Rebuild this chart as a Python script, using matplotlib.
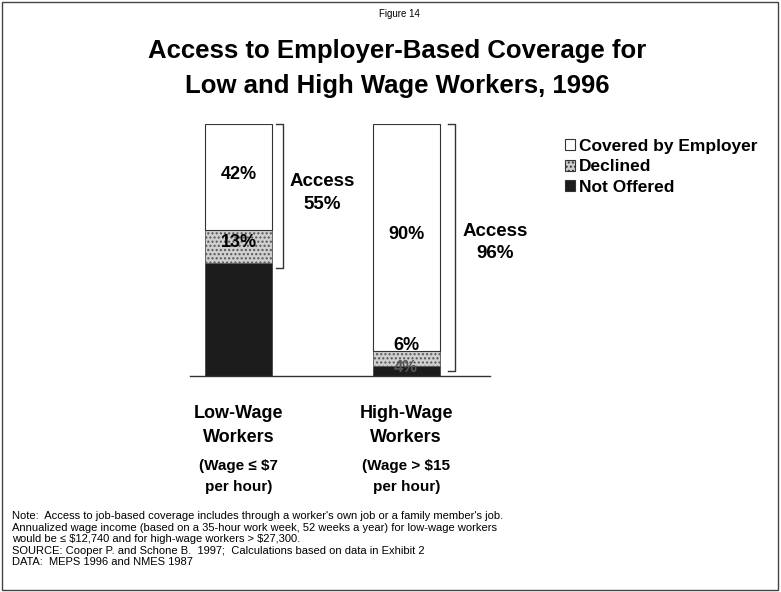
import numpy as np
import matplotlib
matplotlib.use("Agg")
from matplotlib import pyplot as plt
from matplotlib.patches import Patch, Rectangle

plt.rcParams['font.family'] = ['Liberation Sans', 'DejaVu Sans']

groups = ['Low-Wage\nWorkers', 'High-Wage\nWorkers']
wage_notes = ['(Wage \u2264 \\$7\nper hour)', '(Wage > \\$15\nper hour)']
series = ['Covered by Employer', 'Declined', 'Not Offered']
not_offered = [45, 4]
declined = [13, 6]
covered = [42, 90]
access = [55, 96]

colors = {'Covered by Employer': 'white', 'Declined': '#cfcfcf', 'Not Offered': '#1c1c1c'}

fig = plt.figure(figsize=(7.81, 5.92), dpi=100)
ax = fig.add_axes([190 / 781, 1 - 376 / 592, 300 / 781, 252 / 592])

x = np.arange(len(groups))
w = 0.40
ax.bar(x, not_offered, w, color=colors['Not Offered'], edgecolor='#444444', lw=0.6)
ax.bar(x, declined, w, bottom=not_offered, color=colors['Declined'],
       edgecolor='#555555', lw=0.6, hatch='....')
bottom2 = np.array(not_offered) + np.array(declined)
ax.bar(x, covered, w, bottom=bottom2, color=colors['Covered by Employer'],
       edgecolor='#333333', lw=0.8)

ax.set_xlim(-0.29, 1.50)
ax.set_ylim(0, 100)
for s in ['top', 'right', 'left']:
    ax.spines[s].set_visible(False)
ax.spines['bottom'].set_color('#333333')
ax.spines['bottom'].set_linewidth(1.0)
ax.set_xticks([])
ax.set_yticks([])

# segment labels
lab = dict(ha='center', va='center', fontsize=13, fontweight='bold')
ax.text(0, 80, f'{covered[0]}%', **lab)
ax.text(1, 56, f'{covered[1]}%', **lab)
ax.text(0, 53, f'{declined[0]}%', **lab)
ax.text(1, 12, f'{declined[1]}%', **lab)
ax.text(1, 3.5, f'{not_offered[1]}%', ha='center', va='center', fontsize=12,
        fontweight='bold', color='#555555')

# access brackets
for i in x:
    bx = i + w / 2 + 0.065 if i == 0 else i + w / 2 + 0.09
    top, bot = 100, 100 - access[i]
    ax.plot([bx - 0.04, bx, bx, bx - 0.04], [top, top, bot - 2, bot - 2],
            color='#333333', lw=1.0, clip_on=False)
acc = dict(ha='center', va='center', fontsize=13.5, fontweight='bold', linespacing=1.45)
ax.text(0.50, 72.5, f'Access\n{access[0]}%', **acc)
ax.text(1.53, 53, f'Access\n{access[1]}%', **acc)

# category labels
for i in x:
    ax.text(i, -11.5, groups[i], ha='center', va='top', fontsize=13,
            fontweight='bold', linespacing=1.55)
    ax.text(i, -33, wage_notes[i], ha='center', va='top', fontsize=11,
            fontweight='bold', linespacing=1.6)

# legend
handles = [Patch(facecolor=colors[s], edgecolor='#333333', lw=0.8,
                 hatch='....' if s == 'Declined' else None) for s in series]
fig.legend(handles, series, loc='upper left', bbox_to_anchor=(549 / 781, 1 - 123 / 592),
           frameon=False, handlelength=0.6, handleheight=0.6,
           handletextpad=0.2, labelspacing=0.33,
           prop={'size': 12.5, 'weight': 'bold'})

# titles
fig.text(399 / 781, 1 - 14 / 592, 'Figure 14', ha='center', va='center', fontsize=7)
fig.text(397 / 781, 1 - 51 / 592, 'Access to Employer-Based Coverage for',
         ha='center', va='center', fontsize=18.5, fontweight='bold')
fig.text(397 / 781, 1 - 86 / 592, 'Low and High Wage Workers, 1996',
         ha='center', va='center', fontsize=18.5, fontweight='bold')

note = ("Note:  Access to job-based coverage includes through a worker's own job or a family member's job.\n"
        "Annualized wage income (based on a 35-hour work week, 52 weeks a year) for low-wage workers\n"
        "would be \u2264 \\$12,740 and for high-wage workers > \\$27,300.\n"
        "SOURCE: Cooper P. and Schone B.  1997;  Calculations based on data in Exhibit 2\n"
        "DATA:  MEPS 1996 and NMES 1987")
fig.text(12 / 781, 1 - 511 / 592, note, ha='left', va='top', fontsize=8.0, linespacing=1.2)

# page frame
fig.patches.append(Rectangle((2 / 781, 2 / 592), 776 / 781, 588 / 592, transform=fig.transFigure,
                             fill=False, edgecolor='#444444', lw=1.0))

fig.savefig('out.png', dpi=100)
